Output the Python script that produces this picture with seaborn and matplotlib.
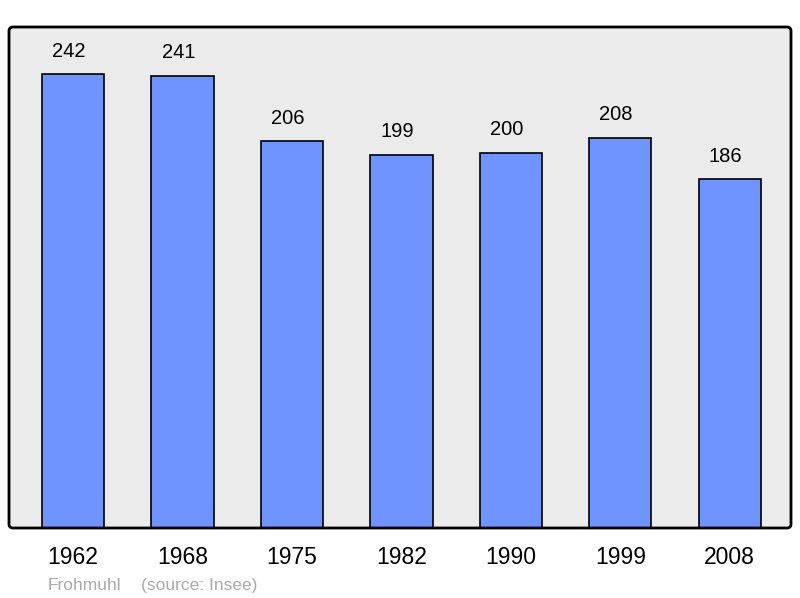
import matplotlib
matplotlib.use("Agg")
import matplotlib.pyplot as plt
import seaborn as sns
import pandas as pd
from matplotlib.patches import FancyBboxPatch

years = ["1962", "1968", "1975", "1982", "1990", "1999", "2008"]
population = [242, 241, 206, 199, 200, 208, 186]
commune = "Frohmuhl"
source = "(source: Insee)"

sns.set_theme(style="white")
plt.rcParams["font.family"] = ["Liberation Sans", "DejaVu Sans"]

df = pd.DataFrame({"year": years, "pop": population})

fig = plt.figure(figsize=(8.0, 5.98), dpi=100)
W, H = 800, 598
ax = fig.add_axes([9 / W, (H - 528) / H, 782 / W, 501 / H])
ax.set_facecolor("#EBEBEB")

sns.barplot(data=df, x="year", y="pop", color="#7094FF", saturation=1,
            width=0.57, edgecolor="black", linewidth=1.2, ax=ax)

ax.set_xlim(-0.585, 6.56)
ax.set_ylim(0, 267)
ax.set_yticks([])
ax.set_xlabel("")
ax.set_ylabel("")
ax.tick_params(axis="x", length=0, pad=13.3, labelsize=16.5, colors="black")
for s in ax.spines.values():
    s.set_visible(False)

for i, v in enumerate(population):
    ax.annotate(str(v), (i, v), xytext=(-3, 12.5), textcoords="offset points",
                ha="center", va="baseline", fontsize=14.5, color="black")

frame = FancyBboxPatch((9 / W, (H - 528) / H), 782 / W, 501 / H,
                       boxstyle="round,pad=0,rounding_size=0.005",
                       mutation_aspect=W / H, transform=fig.transFigure,
                       facecolor="none", edgecolor="black", linewidth=2,
                       zorder=10)
fig.patches.append(frame)

fig.text(48 / W, 1 - 590 / H, commune, fontsize=12.5, color="#AAAAAA",
         ha="left", va="baseline")
fig.text(141 / W, 1 - 590 / H, source, fontsize=12.5, color="#AAAAAA",
         ha="left", va="baseline")

fig.savefig("out.png", dpi=100, facecolor="white")
